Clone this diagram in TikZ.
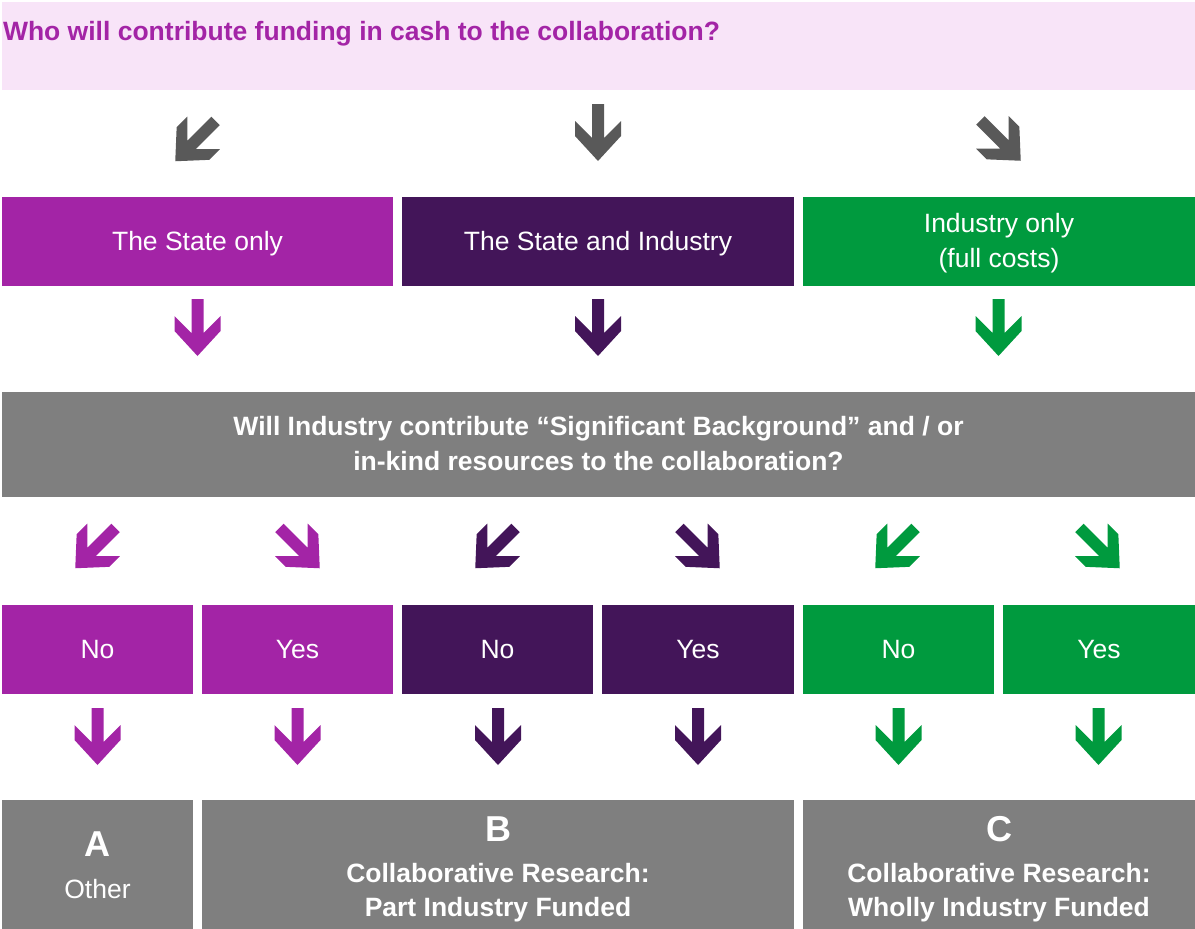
\documentclass[tikz,border=0pt]{standalone}
\usepackage{fontspec}
\setmainfont{Liberation Sans}
\usetikzlibrary{calc}
\definecolor{cpurple}{HTML}{A324A6}
\definecolor{cdark}{HTML}{431559}
\definecolor{cgreen}{HTML}{009A3E}
\definecolor{cgray}{HTML}{7F7F7F}
\definecolor{carrow}{HTML}{595959}
\definecolor{cpink}{HTML}{F8E4F8}
\newcommand{\fsnorm}{\fontsize{26.5}{34.5}\selectfont}
\newcommand{\fsbig}{\fontsize{36}{40}\selectfont}
\begin{document}
\begin{tikzpicture}[x=1pt,y=-1pt,
  box/.style={rectangle, inner sep=0pt, outer sep=0pt, anchor=north west,
    text=white, font=\fsnorm, align=center, text height=17pt, text depth=0pt},
  twoline/.style={text height=51pt, text depth=0pt},
  tx/.style={inner sep=0pt, outer sep=0pt, anchor=base, text=white, font=\fsnorm},
  dn/.pic={\fill[#1] (-6,-28.5) -- (6,-28.5) -- (6,5.5) -- (23,-11.5) -- (23,3.5)
      -- (0,28.5) -- (-23,3.5) -- (-23,-11.5) -- (-6,5.5) -- cycle;},
  sw/.pic={\fill[#1] (13.81,-22.29) -- (22.29,-13.81) -- (-1.75,10.23) -- (22.29,10.23)
      -- (11.69,20.84) -- (-22.25,22.25) -- (-20.84,-11.69) -- (-10.23,-22.29)
      -- (-10.23,1.75) -- cycle;},
  se/.pic={\fill[#1] (-13.81,-22.29) -- (-22.29,-13.81) -- (1.75,10.23) -- (-22.29,10.23)
      -- (-11.69,20.84) -- (22.25,22.25) -- (20.84,-11.69) -- (10.23,-22.29)
      -- (10.23,1.75) -- cycle;},
]
\useasboundingbox (0,0) rectangle (1195,929);

% question
\node[box, fill=cpink, minimum width=1193pt, minimum height=88pt] (q) at (2,2) {};
\node[tx, anchor=base west, text=cpurple, font=\fsnorm\bfseries] (qt) at ($(q.north west)+(1,38)$)
  {Who will contribute funding in cash to the collaboration?};

% funders
\node[box, fill=cpurple, minimum width=391pt, minimum height=89pt] (s1) at (2,197) {The State only};
\node[box, fill=cdark, minimum width=392pt, minimum height=89pt] (s2) at (402,197) {The State and Industry};
\node[box, fill=cgreen, minimum width=392pt, minimum height=89pt, twoline] (s3) at (803,197) {Industry only\\(full costs)};

% background question
\node[box, fill=cgray, minimum width=1193pt, minimum height=105pt, twoline, font=\fsnorm\bfseries] (g) at (2,392)
  {Will Industry contribute “Significant Background” and / or\\in-kind resources to the collaboration?};

% yes / no
\node[box, fill=cpurple, minimum width=191pt, minimum height=89pt] (n1) at (2,605) {No};
\node[box, fill=cpurple, minimum width=191pt, minimum height=89pt] (y1) at (202,605) {Yes};
\node[box, fill=cdark, minimum width=191pt, minimum height=89pt] (n2) at (402,605) {No};
\node[box, fill=cdark, minimum width=192pt, minimum height=89pt] (y2) at (602,605) {Yes};
\node[box, fill=cgreen, minimum width=191pt, minimum height=89pt] (n3) at (803,605) {No};
\node[box, fill=cgreen, minimum width=192pt, minimum height=89pt] (y3) at (1003,605) {Yes};

% outcomes
\node[box, fill=cgray, minimum width=191pt, minimum height=129pt] (A) at (2,800) {};
\node[box, fill=cgray, minimum width=592pt, minimum height=129pt] (B) at (202,800) {};
\node[box, fill=cgray, minimum width=392pt, minimum height=129pt] (C) at (803,800) {};
\node[tx, font=\fsbig\bfseries] (At) at ($(A.north)+(0,56)$) {A};
\node[tx] (As) at ($(A.north)+(0,98.5)$) {Other};
\node[tx, font=\fsbig\bfseries] (Bt) at ($(B.north)+(0,41)$) {B};
\node[tx, font=\fsnorm\bfseries] (Bs1) at ($(B.north)+(0,82.5)$) {Collaborative Research:};
\node[tx, font=\fsnorm\bfseries] (Bs2) at ($(B.north)+(0,116.5)$) {Part Industry Funded};
\node[tx, font=\fsbig\bfseries] (Ct) at ($(C.north)+(0,41)$) {C};
\node[tx, font=\fsnorm\bfseries] (Cs1) at ($(C.north)+(0,82.5)$) {Collaborative Research:};
\node[tx, font=\fsnorm\bfseries] (Cs2) at ($(C.north)+(0,116.5)$) {Wholly Industry Funded};

% arrows row 1
\pic at (197.5,139) {sw=carrow};
\pic at (598,132.5) {dn=carrow};
\pic at (998.5,138.5) {se=carrow};
% arrows row 2
\pic at (197.5,327.5) {dn=cpurple};
\pic at (598,327.5) {dn=cdark};
\pic at (998.5,327.5) {dn=cgreen};
% arrows row 3
\pic at (97.5,546) {sw=cpurple};
\pic at (297.5,546) {se=cpurple};
\pic at (497.5,546) {sw=cdark};
\pic at (697.5,546) {se=cdark};
\pic at (897.5,546) {sw=cgreen};
\pic at (1097.5,546) {se=cgreen};
% arrows row 4
\pic at (97.5,736.5) {dn=cpurple};
\pic at (297.5,736.5) {dn=cpurple};
\pic at (498,736.5) {dn=cdark};
\pic at (698,736.5) {dn=cdark};
\pic at (898.5,736.5) {dn=cgreen};
\pic at (1098.5,736.5) {dn=cgreen};
\end{tikzpicture}
\end{document}
